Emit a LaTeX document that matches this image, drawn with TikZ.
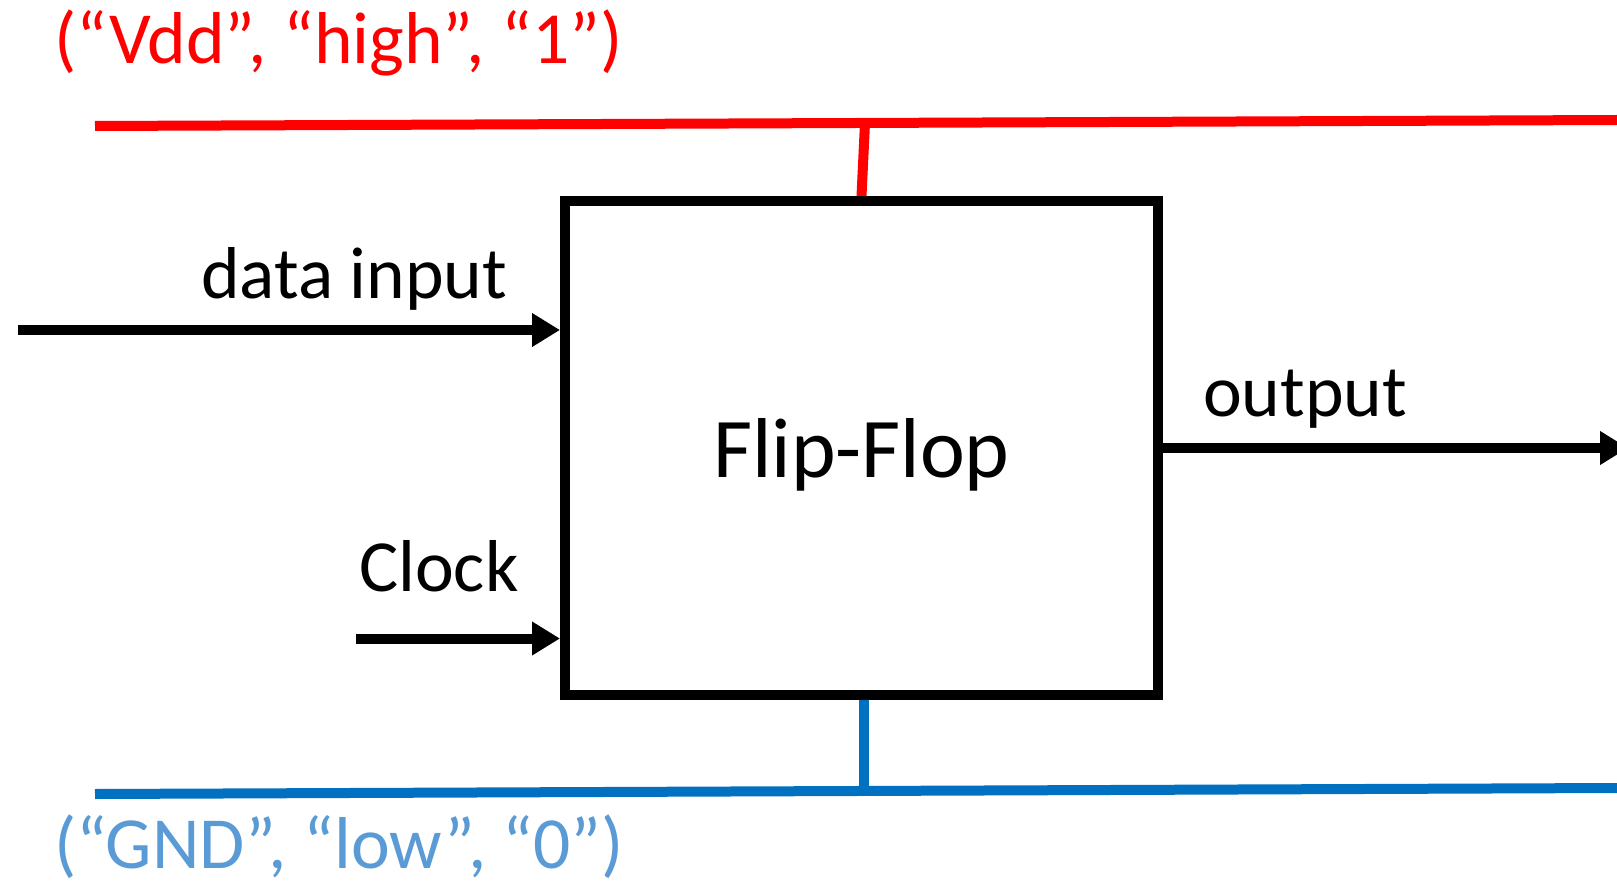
\documentclass[tikz,border=0pt]{standalone}
\usepackage{fontspec}
\setmainfont{Carlito}
\usepackage{tikz}
\usetikzlibrary{arrows.meta,positioning,calc}
\definecolor{vddred}{HTML}{FF0000}
\definecolor{gndblue}{HTML}{0070C0}
\definecolor{gndtext}{HTML}{5B9BD5}
\tikzset{
  ffbox/.style={draw, line width=10pt, minimum width=593pt, minimum height=494pt},
  ffname/.style={font=\fontsize{85}{100}\selectfont, inner sep=0pt, anchor=base},
  sig/.style={font=\fontsize{73.5}{88}\selectfont, anchor=base west, inner sep=0pt},
  sigarrow/.style={-{Triangle[length=28pt,width=32pt]}, line width=10pt},
  rail/.style={line width=10pt}
}

\begin{document}
\begin{tikzpicture}[x=1pt, y=-1pt]
\useasboundingbox (0,0) rectangle (1617,885);
\node[ffbox] (ff) at (861.5,448) {};
\node[ffname] (ffname) at ($(ff.center)+(0,29)$) {Flip-Flop};

% supply rails
\coordinate (vddl) at (95,126);
\coordinate (vddr) at (1617,120);
\coordinate (vddtap) at (865,123);
\coordinate (gndl) at (95,794);
\coordinate (gndr) at (1617,788);
\coordinate (gndtap) at (864,791);
\draw[rail, vddred] (vddtap) -- (ff.north);
\draw[rail, vddred] (vddl) -- (vddr);
\draw[rail, gndblue] (ff.south -| gndtap) -- (gndtap);
\draw[rail, gndblue] (gndl) -- (gndr);
\node[sig, text=vddred] (vddlabel) at (54,64) {(“Vdd”, “high”, “1”)};
\node[sig, text=gndtext] (gndlabel) at (54,868) {(“GND”, “low”, “0”)};

% signals
\coordinate (din) at (18,330);
\coordinate (clk) at (356,638.5);
\coordinate (qout) at (1628,448);
\draw[sigarrow] (din) -- (ff.west |- din);
\draw[sigarrow] (clk) -- (ff.west |- clk);
\draw[sigarrow] (ff.east) -- (qout);
\node[sig] (dinlabel) at (201,299) {data input};
\node[sig] (clklabel) at (359,591) {Clock};
\node[sig] (qlabel) at (1203,416) {output};
\end{tikzpicture}
\end{document}
